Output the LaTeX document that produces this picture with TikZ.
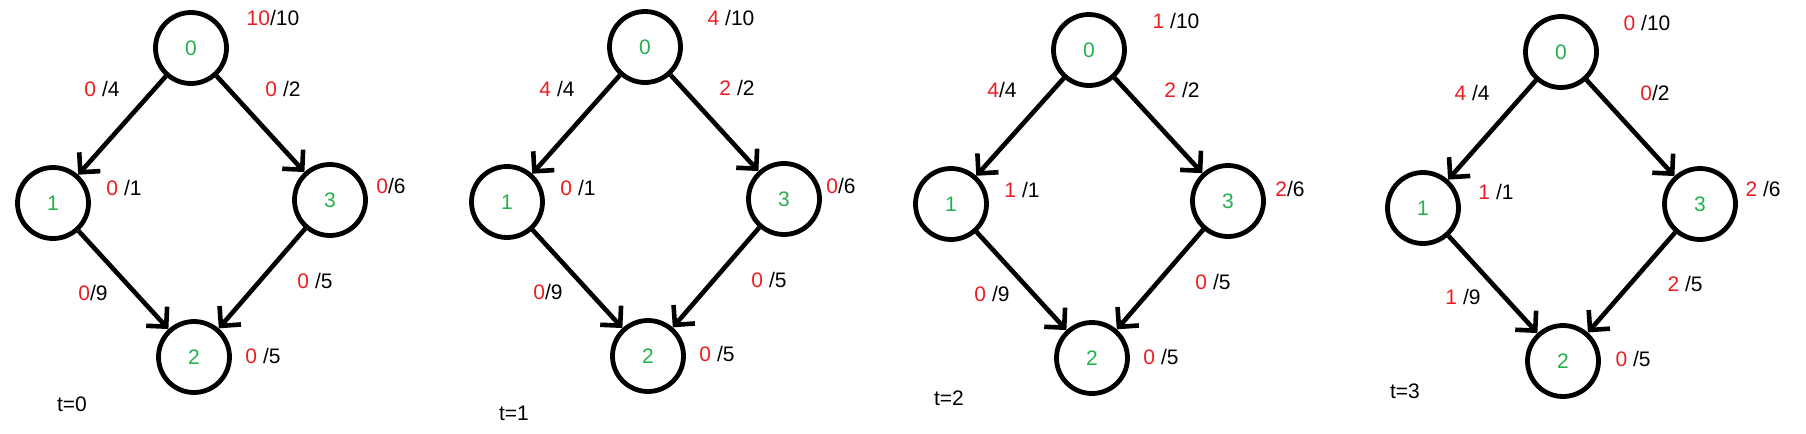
\documentclass[tikz,border=0pt]{standalone}
\usepackage{fontspec}
\setmainfont{Liberation Sans}
\usetikzlibrary{arrows.meta}
\definecolor{pred}{HTML}{ED1C24}
\definecolor{pgreen}{HTML}{22B14C}
\newcommand\flowval[1]{\textcolor{pred}{#1}}
\begin{document}
\begin{tikzpicture}[x=0.5pt,y=-0.5pt,
  vert/.style={circle,draw,line width=2.4pt,minimum size=35.5pt,inner sep=0pt,text=pgreen,font=\fontsize{10.5}{12}\selectfont},
  lbl/.style={inner sep=0pt,font=\fontsize{10.5}{12}\selectfont},
  edge/.style={line width=2.3pt,-{Straight Barb[angle=90:10pt]}}]
\useasboundingbox (0,0) rectangle (1806,434);
% ---------- t=0 ----------
\node[vert] (a0) at (191,48) {0};
\node[vert] (a1) at (53,203) {1};
\node[vert] (a3) at (330,200) {3};
\node[vert] (a2) at (194,357) {2};
\draw[edge] (a0) -- (a1);
\draw[edge] (a0) -- (a3);
\draw[edge] (a1) -- (a2);
\draw[edge] (a3) -- (a2);
\node[lbl] (la0) at (273,18) {\flowval{10}/10};
\node[lbl] (la01) at (102,89) {\flowval{0} /4};
\node[lbl] (la03) at (283,89) {\flowval{0} /2};
\node[lbl] (la1) at (124,188) {\flowval{0} /1};
\node[lbl] (la3) at (391,186) {\flowval{0}/6};
\node[lbl] (la12) at (93,293) {\flowval{0}/9};
\node[lbl] (la32) at (315,281) {\flowval{0} /5};
\node[lbl] (la2) at (263,356) {\flowval{0} /5};
\node[lbl] (ta) at (72,404) {t=0};
% ---------- t=1 ----------
\node[vert] (b0) at (645,47) {0};
\node[vert] (b1) at (507,202) {1};
\node[vert] (b3) at (784,199) {3};
\node[vert] (b2) at (648,356) {2};
\draw[edge] (b0) -- (b1);
\draw[edge] (b0) -- (b3);
\draw[edge] (b1) -- (b2);
\draw[edge] (b3) -- (b2);
\node[lbl] (lb0) at (731,18) {\flowval{4} /10};
\node[lbl] (lb01) at (557,89) {\flowval{4} /4};
\node[lbl] (lb03) at (737,88) {\flowval{2} /2};
\node[lbl] (lb1) at (578,188) {\flowval{0} /1};
\node[lbl] (lb3) at (841,186) {\flowval{0}/6};
\node[lbl] (lb12) at (548,292) {\flowval{0}/9};
\node[lbl] (lb32) at (769,280) {\flowval{0} /5};
\node[lbl] (lb2) at (717,354) {\flowval{0} /5};
\node[lbl] (tb) at (514,413) {t=1};
% ---------- t=2 ----------
\node[vert] (c0) at (1089,50) {0};
\node[vert] (c1) at (951,204) {1};
\node[vert] (c3) at (1228,201) {3};
\node[vert] (c2) at (1092,358) {2};
\draw[edge] (c0) -- (c1);
\draw[edge] (c0) -- (c3);
\draw[edge] (c1) -- (c2);
\draw[edge] (c3) -- (c2);
\node[lbl] (lc0) at (1176,21) {\flowval{1} /10};
\node[lbl] (lc01) at (1002,90) {\flowval{4}/4};
\node[lbl] (lc03) at (1182,90) {\flowval{2} /2};
\node[lbl] (lc1) at (1022,190) {\flowval{1} /1};
\node[lbl] (lc3) at (1290,189) {\flowval{2}/6};
\node[lbl] (lc12) at (992,294) {\flowval{0} /9};
\node[lbl] (lc32) at (1213,282) {\flowval{0} /5};
\node[lbl] (lc2) at (1161,357) {\flowval{0} /5};
\node[lbl] (tc) at (949,398) {t=2};
% ---------- t=3 ----------
\node[vert] (d0) at (1561,52) {0};
\node[vert] (d1) at (1423,208) {1};
\node[vert] (d3) at (1700,204) {3};
\node[vert] (d2) at (1563,361) {2};
\draw[edge] (d0) -- (d1);
\draw[edge] (d0) -- (d3);
\draw[edge] (d1) -- (d2);
\draw[edge] (d3) -- (d2);
\node[lbl] (ld0) at (1647,23) {\flowval{0} /10};
\node[lbl] (ld01) at (1472,93) {\flowval{4} /4};
\node[lbl] (ld03) at (1655,93) {\flowval{0}/2};
\node[lbl] (ld1) at (1496,192) {\flowval{1} /1};
\node[lbl] (ld3) at (1763,189) {\flowval{2} /6};
\node[lbl] (ld12) at (1463,297) {\flowval{1} /9};
\node[lbl] (ld32) at (1685,284) {\flowval{2} /5};
\node[lbl] (ld2) at (1633,359) {\flowval{0} /5};
\node[lbl] (td) at (1405,391) {t=3};
\end{tikzpicture}
\end{document}
